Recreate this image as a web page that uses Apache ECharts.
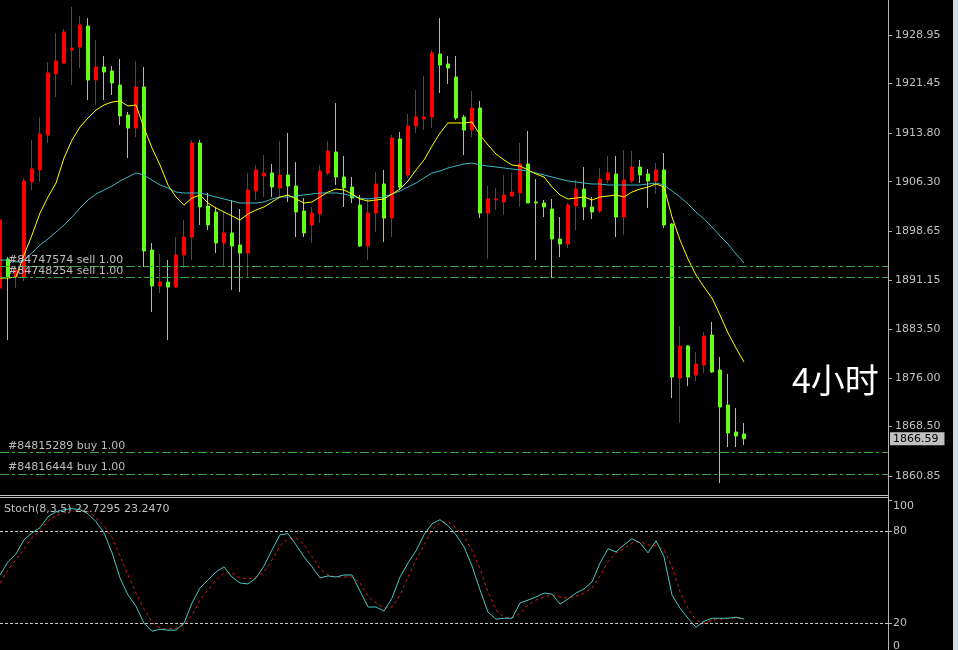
<!DOCTYPE html>
<html>
<head>
<meta charset="utf-8">
<script src="https://cdn.jsdelivr.net/npm/echarts@6/dist/echarts.min.js"></script>
<style>
html,body{margin:0;padding:0;background:#000;}
#c{width:958px;height:650px;}
</style>
</head>
<body>
<div id="c"></div>
<script>
// ---- data (4-hour bars) ----
const opens = [
1889.88,1894.35,1891.58,1891.58,1906.25,1908.10,1913.50,1922.92,1924.62,1926.63,
1927.09,1930.34,1922.00,1924.00,1923.39,1921.22,1916.59,1914.58,1920.92,1895.74,
1890.19,1890.80,1890.03,1894.97,1897.75,1912.27,1902.54,1901.61,1896.83,1898.37,
1896.52,1895.28,1904.86,1907.17,1907.64,1905.32,1907.33,1905.63,1901.77,1899.61,
1901.30,1907.64,1910.88,1907.02,1905.47,1902.69,1896.36,1901.46,1905.94,1900.69,
1912.89,1907.33,1914.89,1915.97,1916.28,1926.01,1924.47,1922.46,1916.28,1914.28,
1917.67,1901.46,1903.47,1903.16,1904.08,1904.55,1909.03,1903.16,1903.00,1902.08,
1897.44,1896.67,1902.54,1905.16,1902.39,1901.77,1906.55,1907.48,1900.84,1906.40,
1908.56,1907.48,1906.40,1908.10,1899.76,1875.98,1880.92,1876.44,1877.99,1882.62,
1877.21,1871.81,1867.64,1867.33];
const closes = [
1900.38,1891.58,1892.66,1906.40,1908.25,1913.66,1923.08,1924.93,1929.41,1926.94,
1930.49,1922.00,1924.00,1923.23,1921.53,1916.44,1914.58,1920.92,1895.59,1890.19,
1890.80,1890.03,1894.97,1897.75,1912.27,1902.39,1899.61,1896.83,1898.37,1896.36,
1895.28,1905.01,1908.10,1907.64,1905.47,1907.33,1905.63,1901.61,1898.37,1901.46,
1907.94,1911.03,1907.02,1905.32,1903.77,1896.36,1901.46,1905.94,1900.69,1913.04,
1905.47,1914.89,1916.28,1916.28,1926.17,1924.31,1923.85,1916.13,1914.28,1917.67,
1901.46,1903.62,1903.62,1904.24,1904.70,1909.03,1903.00,1903.00,1902.39,1897.44,
1896.67,1902.69,1905.16,1902.39,1901.61,1906.71,1907.64,1900.84,1906.55,1908.56,
1907.33,1906.40,1908.10,1899.61,1876.13,1880.92,1876.13,1878.14,1882.46,1876.91,
1871.50,1867.49,1867.02,1866.59];
const lows = [
1889.57,1881.85,1889.88,1890.96,1905.01,1906.25,1912.27,1919.37,1924.47,1921.22,
1923.85,1918.91,1918.14,1918.91,1919.68,1915.05,1909.95,1913.19,1893.12,1886.17,
1889.10,1881.85,1889.88,1892.97,1894.20,1899.61,1898.83,1895.28,1893.12,1889.57,
1889.26,1891.58,1903.47,1903.93,1903.93,1903.93,1903.16,1897.75,1897.75,1896.83,
1899.91,1907.33,1905.78,1902.39,1903.00,1896.21,1894.20,1898.52,1896.98,1897.75,
1905.01,1906.86,1913.81,1914.28,1914.58,1919.99,1921.38,1915.82,1910.41,1913.19,
1900.69,1894.35,1901.92,1901.15,1903.93,1902.39,1903.00,1894.20,1900.84,1891.42,
1894.66,1896.05,1898.83,1900.38,1900.53,1901.46,1906.09,1897.75,1898.06,1906.09,
1906.09,1902.23,1904.39,1899.14,1872.89,1869.03,1874.74,1875.52,1876.75,1876.75,
1859.77,1865.32,1865.32,1865.63];
const highs = [
1900.69,1894.66,1893.27,1906.86,1912.73,1916.28,1924.78,1929.25,1929.87,1933.27,
1931.88,1931.57,1928.17,1925.70,1924.16,1925.24,1917.05,1924.93,1924.00,1896.83,
1895.13,1894.20,1897.75,1900.38,1912.73,1912.73,1904.55,1902.39,1901.61,1903.47,
1902.08,1907.64,1908.87,1910.41,1909.03,1912.58,1913.81,1909.33,1903.77,1902.39,
1908.87,1912.58,1918.44,1910.26,1907.02,1904.24,1903.62,1907.79,1908.10,1913.50,
1913.97,1916.75,1920.45,1922.61,1926.63,1931.57,1925.70,1925.70,1916.59,1920.30,
1918.75,1905.63,1905.32,1907.33,1907.64,1912.27,1914.12,1906.71,1903.47,1903.62,
1900.84,1903.00,1906.55,1908.56,1903.93,1908.41,1910.26,1910.26,1911.19,1911.03,
1909.64,1908.25,1909.18,1910.72,1899.90,1884.01,1881.08,1879.99,1883.08,1884.63,
1879.22,1876.60,1871.35,1869.03];
const maFast = [
1891.42,1891.42,1891.58,1894.97,1898.06,1901.46,1903.93,1906.09,1909.95,1912.73,
1914.74,1916.13,1917.36,1918.14,1918.60,1918.75,1917.98,1918.14,1914.58,1911.50,
1908.87,1905.78,1903.93,1902.69,1903.77,1904.24,1903.00,1902.23,1901.61,1901.00,
1900.38,1901.30,1901.92,1902.39,1903.16,1903.93,1904.24,1903.62,1903.00,1903.16,
1903.93,1904.70,1905.16,1905.01,1904.39,1903.62,1903.31,1903.47,1903.62,1904.39,
1905.16,1906.40,1908.10,1909.64,1911.80,1913.81,1915.36,1915.36,1915.36,1915.51,
1913.50,1911.96,1910.57,1909.64,1908.87,1908.72,1908.10,1907.48,1907.02,1905.47,
1904.24,1903.62,1903.77,1903.93,1903.47,1903.93,1904.08,1904.24,1903.93,1904.70,
1905.16,1905.47,1905.94,1905.47,1900.84,1897.29,1894.35,1891.88,1890.03,1888.33,
1885.71,1882.93,1880.61,1878.45];
const maSlow = [
1894.20,1894.20,1893.89,1894.20,1895.28,1896.52,1897.44,1898.52,1899.61,1900.84,
1902.23,1903.47,1904.39,1905.01,1905.63,1906.40,1907.02,1907.64,1907.33,1906.55,
1905.78,1905.32,1904.70,1904.55,1904.55,1904.55,1904.24,1903.93,1903.62,1903.31,
1903.00,1903.00,1903.00,1903.16,1903.62,1903.93,1903.93,1904.08,1904.24,1904.39,
1904.55,1904.55,1904.55,1904.39,1904.08,1903.77,1903.62,1903.77,1903.93,1904.39,
1904.86,1905.47,1906.09,1906.86,1907.64,1907.94,1908.41,1908.72,1909.03,1909.18,
1908.87,1908.72,1908.56,1908.41,1908.25,1908.10,1907.94,1907.64,1907.33,1907.02,
1906.71,1906.40,1906.25,1906.09,1905.94,1905.94,1905.78,1905.78,1905.78,1905.78,
1905.78,1905.94,1906.09,1905.78,1904.86,1903.93,1902.85,1901.61,1900.53,1899.30,
1897.91,1896.67,1895.13,1893.74];
const stochK = [
51.3,59.8,65.0,74.2,78.7,82.0,89.2,92.4,93.7,94.4,
93.7,91.1,85.9,78.7,65.7,49.4,38.3,31.1,20.0,14.8,
16.1,15.5,15.5,20.0,33.1,42.9,48.1,53.3,56.6,50.0,
46.1,45.5,49.4,57.2,67.6,77.4,78.1,70.9,63.1,56.6,
49.4,50.7,50.0,51.3,51.3,40.9,30.5,30.5,27.9,36.3,
50.0,59.1,67.0,77.4,84.6,87.2,83.3,77.4,69.6,57.2,
41.6,27.2,22.6,23.2,23.2,33.1,35.0,37.0,39.6,38.9,
32.4,35.7,39.6,42.2,46.8,59.1,68.3,66.3,70.9,74.8,
72.2,65.7,73.5,63.1,38.3,29.8,23.2,17.4,21.3,23.2,
23.2,23.2,23.9,22.7295];
const stochD = [
46.1,54.6,61.1,68.3,75.5,80.0,86.6,89.8,91.8,93.1,
93.7,92.4,88.5,83.3,75.5,63.7,51.3,39.6,29.2,20.7,
16.8,16.1,16.8,18.7,25.2,35.0,41.6,48.1,52.6,52.6,
49.4,48.7,50.0,53.3,61.1,70.3,74.8,75.5,70.9,63.1,
55.3,51.3,50.0,50.0,50.0,46.1,37.6,33.1,29.8,30.5,
38.3,50.0,61.1,70.9,80.7,85.3,85.9,82.0,76.8,67.0,
55.3,40.3,28.5,24.0,23.4,26.5,31.8,35.0,37.0,38.3,
37.0,36.3,37.6,39.6,42.9,50.7,59.8,65.7,68.3,72.2,
72.9,70.9,70.3,67.6,56.6,40.3,29.8,22.0,20.0,22.0,
22.6,23.2,23.2,23.2470];
const orderTickets = ['#84747574 sell 1.00','#84748254 sell 1.00','#84815289 buy 1.00','#84816444 buy 1.00'];
const orderPrices = [1893.17, 1891.54, 1864.51, 1861.16];
const priceTicks = [1928.95,1921.45,1913.80,1906.30,1898.65,1891.15,1883.50,1876.00,1868.50,1860.85];
const stochTicks = [0, 20, 80, 100];
const stochLevels = [80, 20];
const stochName = 'Stoch(8,3,5)';
const periodLabel = '4小时';
const emptySlotsRight = 17;
const priceMin = 1858.07, priceMax = 1934.35;

// ---- chart ----
const FONT = 'DejaVu Sans';
const N = opens.length;
const cats = [];
for (let i = 0; i < N + emptySlotsRight; i++) cats.push(String(i));
const candles = opens.map((o, i) => [o, closes[i], lows[i], highs[i]]);
const lastClose = closes[N - 1];
const AX_X = 888;

const chart = echarts.init(document.getElementById('c'), null, {renderer: 'canvas'});

const orderLines = orderPrices.map((p, k) => [
  {coord: [0, p], x: 0,
   label: {show: true, position: 'insideStartTop', distance: [8, 1], formatter: orderTickets[k],
           color: '#bdbdbd', fontFamily: FONT, fontSize: 11}},
  {coord: [N - 1, p], x: AX_X}
]);
const priceTag = [
  {coord: [0, lastClose], x: 0, lineStyle: {color: 'rgba(0,0,0,0)', opacity: 1},
   label: {show: true, position: 'end', distance: 2, formatter: lastClose.toFixed(2), opacity: 1,
           color: '#000', backgroundColor: '#c0c0c0', padding: [1, 6, 1, 3],
           fontFamily: FONT, fontSize: 11}},
  {coord: [N - 1, lastClose], x: AX_X}
];
const levelLines = stochLevels.map(v => [
  {coord: [0, v], x: 0}, {coord: [N - 1, v], x: AX_X}
]);

const axisCommon = {
  type: 'value', position: 'right', offset: 4,
  axisLine: {show: true, lineStyle: {color: '#b4b4b4', width: 1}},
  splitLine: {show: false}
};

const option = {
  backgroundColor: '#000',
  animation: false,
  grid: [
    {left: -4, width: 888, top: 0, height: 494, containLabel: false, outerBoundsMode: 'none'},
    {left: -4, width: 888, top: 500, height: 154, containLabel: false, outerBoundsMode: 'none'}
  ],
  xAxis: [
    {type: 'category', gridIndex: 0, data: cats, show: false, boundaryGap: true},
    {type: 'category', gridIndex: 1, data: cats, show: false, boundaryGap: true}
  ],
  yAxis: [
    Object.assign({}, axisCommon, {
      gridIndex: 0, min: priceMin, max: priceMax,
      axisTick: {show: true, length: 4, customValues: priceTicks, lineStyle: {color: '#b4b4b4'}},
      axisLabel: {customValues: priceTicks, formatter: v => v.toFixed(2), color: '#c0c0c0',
                  fontFamily: FONT, fontSize: 11, margin: 7}
    }),
    Object.assign({}, axisCommon, {
      gridIndex: 1, min: 0, max: 100,
      axisTick: {show: true, length: 4, customValues: stochTicks, lineStyle: {color: '#b4b4b4'}},
      axisLabel: {customValues: stochTicks, color: '#c0c0c0', fontFamily: FONT, fontSize: 11, margin: 5,
                  formatter: v => v === 100 ? '{t|100}' : (v === 0 ? '{b|0}' : String(v)),
                  rich: {t: {padding: [12, 0, 0, 0], color: '#c0c0c0', fontFamily: FONT, fontSize: 11},
                         b: {padding: [0, 0, 16, 0], color: '#c0c0c0', fontFamily: FONT, fontSize: 11}}}
    })
  ],
  series: [
    {
      type: 'candlestick', xAxisIndex: 0, yAxisIndex: 0, data: candles,
      barWidth: 4, clip: false, silent: true,
      itemStyle: {color: '#ff0000', color0: '#66ff1a', borderColor: '#ff0000', borderColor0: '#66ff1a', borderWidth: 1},
      markLine: {
        silent: true, symbol: ['none', 'none'], animation: false,
        lineStyle: {color: '#3ea33e', width: 1, type: [9, 3, 3, 3]},
        label: {show: false},
        data: orderLines.concat([priceTag])
      }
    },
    {
      type: 'line', xAxisIndex: 0, yAxisIndex: 0, data: maSlow, showSymbol: false, silent: true,
      lineStyle: {color: '#3cb8c4', width: 1}
    },
    {
      type: 'line', xAxisIndex: 0, yAxisIndex: 0, data: maFast, showSymbol: false, silent: true,
      lineStyle: {color: '#ffff00', width: 1}
    },
    {
      type: 'line', xAxisIndex: 1, yAxisIndex: 1, data: stochD, showSymbol: false, silent: true,
      lineStyle: {color: '#d42020', width: 1, type: [3, 3]}
    },
    {
      type: 'line', xAxisIndex: 1, yAxisIndex: 1, data: stochK, showSymbol: false, silent: true, clip: false,
      lineStyle: {color: '#48c8c0', width: 1},
      markLine: {
        silent: true, symbol: ['none', 'none'], animation: false,
        lineStyle: {color: '#c8c8c8', width: 1, type: [3, 2]},
        label: {show: false},
        data: levelLines
      }
    }
  ],
  graphic: [
    {type: 'line', shape: {x1: 0, y1: 495.5, x2: AX_X, y2: 495.5}, style: {stroke: '#c0c0c0', lineWidth: 1}, silent: true},
    {type: 'line', shape: {x1: 0, y1: 497.5, x2: AX_X, y2: 497.5}, style: {stroke: '#c0c0c0', lineWidth: 1}, silent: true},
    {type: 'line', shape: {x1: AX_X + 0.5, y1: 493, x2: AX_X + 0.5, y2: 501}, style: {stroke: '#b4b4b4', lineWidth: 1}, silent: true},
    {type: 'rect', shape: {x: 953, y: 0, width: 5, height: 650}, style: {fill: '#cfdcec'}, silent: true},
    {type: 'text', silent: true,
     style: {x: 4, y: 509, text: stochName + ' ' + stochK[N - 1].toFixed(4) + ' ' + stochD[N - 1].toFixed(4),
             fill: '#c0c0c0', font: '11px "DejaVu Sans"', verticalAlign: 'middle'}},
    {type: 'text', silent: true,
     style: {x: 792, y: 380, text: periodLabel, fill: '#ffffff',
             font: '34px "Noto Sans CJK SC"', verticalAlign: 'middle'}}
  ]
};
chart.setOption(option);
</script>
</body>
</html>
